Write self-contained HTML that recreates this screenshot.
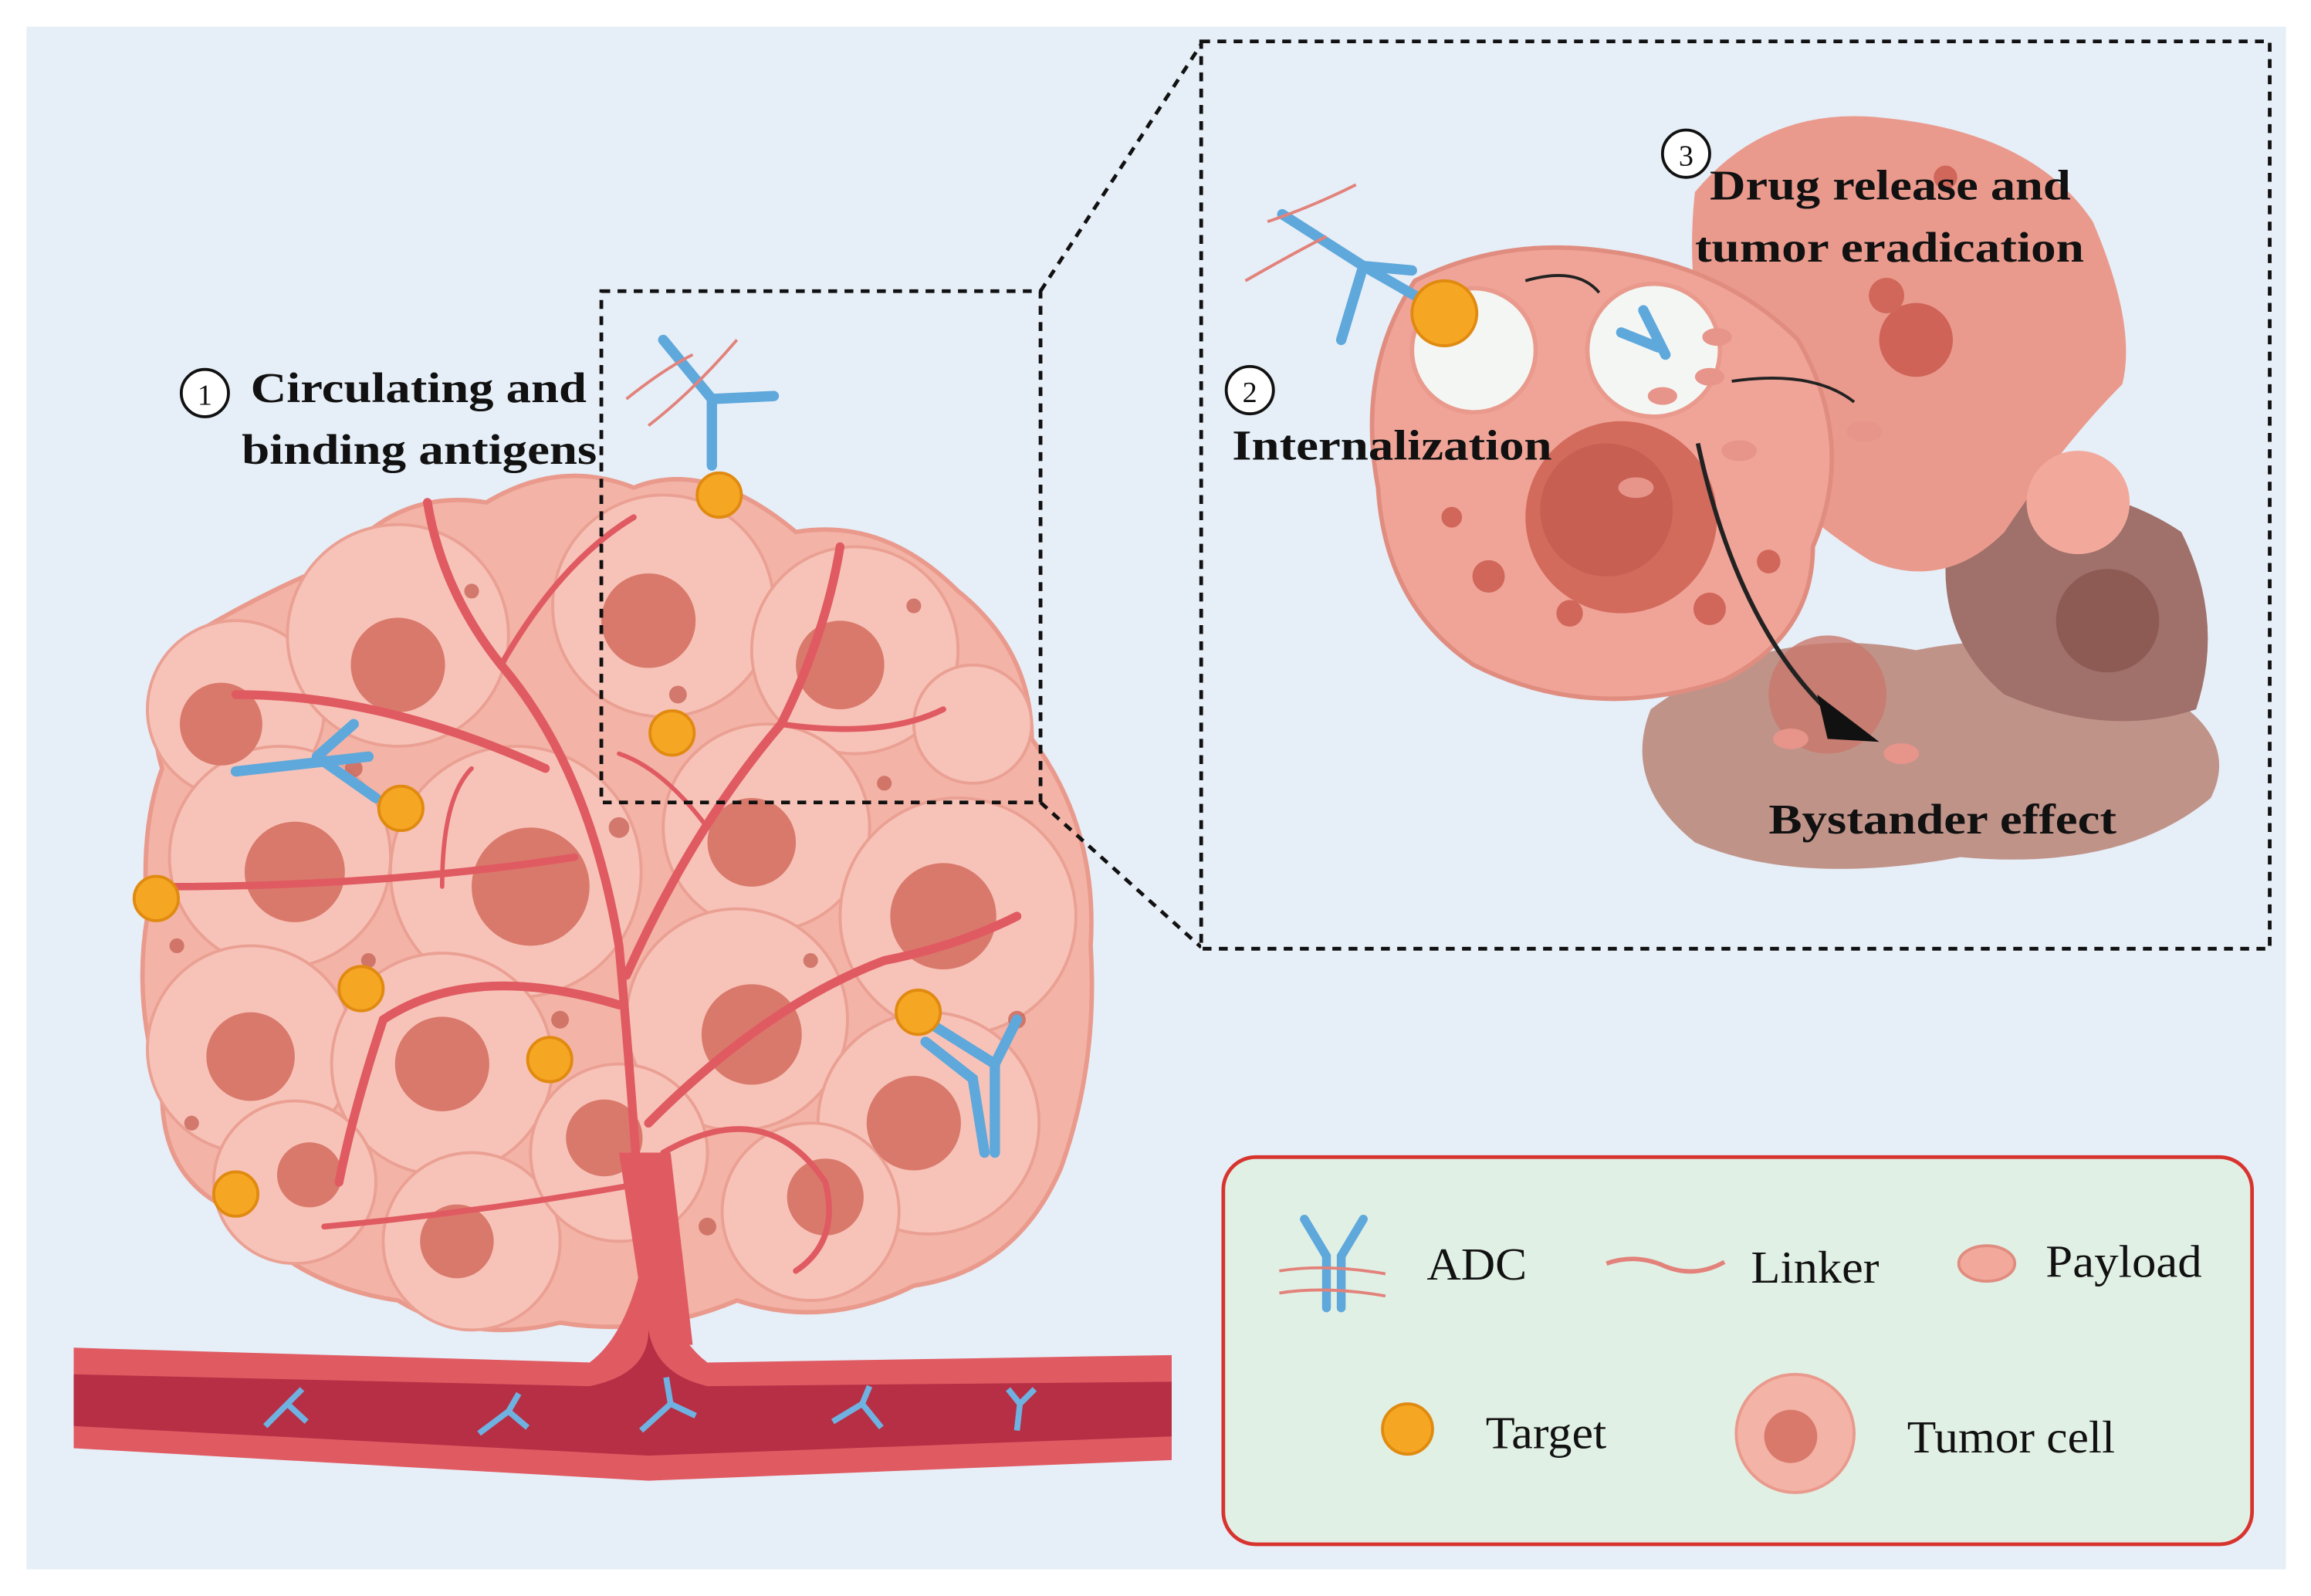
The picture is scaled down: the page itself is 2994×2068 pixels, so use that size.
<!DOCTYPE html>
<html><head><meta charset="utf-8"><style>
html,body{margin:0;padding:0;background:#fff;}
svg{display:block;}
text{font-family:"Liberation Serif",serif;}
</style></head><body>
<svg width="2994" height="2068" viewBox="0 0 1568 1080" preserveAspectRatio="none" xmlns="http://www.w3.org/2000/svg">
<rect x="0" y="0" width="1568" height="1080" fill="#fff"/>
<rect x="18" y="18" width="1533" height="1044" fill="#e6eef7"/>

<g>
<path d="M130 430 Q180 400 230 380 Q270 330 330 340 Q380 310 430 330 Q480 310 540 360 Q600 350 650 400 Q700 440 700 500 Q745 560 740 640 Q745 720 720 790 Q690 860 620 870 Q560 900 500 880 Q440 905 380 895 Q320 910 270 880 Q200 870 160 820 Q110 800 110 740 Q90 680 100 620 Q95 560 110 520 Q95 470 130 430Z" fill="#f3b3a6" stroke="#e99a8c" stroke-width="3"/>
<g fill="#f7c3b8" stroke="#eaa093" stroke-width="2">
<circle cx="160" cy="480" r="60"/><circle cx="270" cy="430" r="75"/><circle cx="450" cy="410" r="75"/><circle cx="580" cy="440" r="70"/><circle cx="190" cy="580" r="75"/><circle cx="350" cy="590" r="85"/><circle cx="520" cy="560" r="70"/><circle cx="650" cy="620" r="80"/><circle cx="170" cy="710" r="70"/><circle cx="300" cy="720" r="75"/><circle cx="500" cy="690" r="75"/><circle cx="630" cy="760" r="75"/><circle cx="200" cy="800" r="55"/><circle cx="320" cy="840" r="60"/><circle cx="420" cy="780" r="60"/><circle cx="550" cy="820" r="60"/><circle cx="660" cy="490" r="40"/>
</g>
<g fill="#d9796b">
<circle cx="150" cy="490" r="28"/><circle cx="270" cy="450" r="32"/><circle cx="440" cy="420" r="32"/><circle cx="570" cy="450" r="30"/><circle cx="200" cy="590" r="34"/><circle cx="360" cy="600" r="40"/><circle cx="510" cy="570" r="30"/><circle cx="640" cy="620" r="36"/><circle cx="170" cy="715" r="30"/><circle cx="300" cy="720" r="32"/><circle cx="510" cy="700" r="34"/><circle cx="620" cy="760" r="32"/><circle cx="210" cy="795" r="22"/><circle cx="310" cy="840" r="25"/><circle cx="410" cy="770" r="26"/><circle cx="560" cy="810" r="26"/>
</g>
<g fill="#c9655a" opacity="0.8">
<circle cx="240" cy="520" r="6"/><circle cx="120" cy="640" r="5"/><circle cx="420" cy="560" r="7"/><circle cx="600" cy="530" r="5"/><circle cx="460" cy="470" r="6"/><circle cx="380" cy="690" r="6"/><circle cx="690" cy="690" r="6"/><circle cx="250" cy="650" r="5"/><circle cx="480" cy="830" r="6"/><circle cx="130" cy="760" r="5"/><circle cx="550" cy="650" r="5"/><circle cx="320" cy="400" r="5"/><circle cx="620" cy="410" r="5"/>
</g>
<g fill="none" stroke="#e05a62" stroke-width="6" stroke-linecap="round">
<path d="M440 910 Q430 750 420 640 Q400 520 340 450 Q300 400 290 340"/>
<path d="M425 660 Q470 560 530 490 Q560 430 570 370"/>
<path d="M370 520 Q260 470 160 470"/>
<path d="M390 580 Q260 600 110 600" stroke-width="5"/>
<path d="M420 680 Q320 650 260 690 Q240 750 230 800"/>
<path d="M440 760 Q520 680 600 650 Q650 640 690 620"/>
<path d="M440 800 Q330 820 220 830" stroke-width="4"/>
<path d="M450 780 Q520 740 560 800 Q570 840 540 860" stroke-width="4"/>
<path d="M340 450 Q380 380 430 350" stroke-width="4"/>
<path d="M530 490 Q600 500 640 480" stroke-width="4"/>
<path d="M300 600 Q300 540 320 520" stroke-width="3"/>
<path d="M480 560 Q450 520 420 510" stroke-width="3"/>
</g>
<path d="M420 780 L440 910 L470 910 L455 780Z" fill="#e05a62"/>
</g>

<path d="M50 912 L400 922 Q430 900 440 830 Q450 900 480 922 L795 917 L795 988 L440 1002 L50 980Z" fill="#e05a62"/>
<path d="M50 930 L400 938 Q440 930 440 900 Q445 930 480 938 L795 935 L795 972 L440 985 L50 965Z" fill="#b62f45"/>
<g stroke="#6fb1e0" stroke-width="4" fill="none">
<path d="M180 965 L195 950 M195 950 L205 940 M195 950 L208 962"/>
<path d="M325 970 L345 955 M345 955 L352 943 M345 955 L358 966"/>
<path d="M435 968 L455 950 M455 950 L452 932 M455 950 L472 958"/>
<path d="M565 962 L585 950 M585 950 L590 938 M585 950 L598 966"/>
<path d="M690 968 L692 950 M692 950 L684 940 M692 950 L702 940"/>
</g>

<rect x="408" y="197" width="298" height="346" fill="none" stroke="#111" stroke-width="2.5" stroke-dasharray="6,5"/>
<line x1="706" y1="197" x2="815" y2="30" stroke="#111" stroke-width="2.5" stroke-dasharray="6,5"/>
<line x1="706" y1="543" x2="815" y2="641" stroke="#111" stroke-width="2.5" stroke-dasharray="6,5"/>
<rect x="815" y="28" width="725" height="614" fill="#e6eef7" stroke="#111" stroke-width="2.5" stroke-dasharray="6,5"/>

<g stroke="#5ea8dc" stroke-width="7" stroke-linecap="round" fill="none">
<path d="M483 315 L483 270 L450 230 M483 270 L525 268"/>
<path d="M160 522 L250 512 M215 512 L240 490 M215 512 L255 540"/>
<path d="M675 780 L675 720 L690 690 M675 720 L635 695"/>
<path d="M668 780 L660 730 L628 705"/>
</g>
<g fill="#f5a623" stroke="#e08a10" stroke-width="2">
<circle cx="488" cy="335" r="15"/><circle cx="456" cy="496" r="15"/><circle cx="272" cy="547" r="15"/><circle cx="106" cy="608" r="15"/><circle cx="245" cy="669" r="15"/><circle cx="373" cy="717" r="15"/><circle cx="160" cy="808" r="15"/><circle cx="623" cy="685" r="15"/>
</g>
<path d="M425 270 Q450 250 470 240 M440 288 Q470 265 500 230" stroke="#e2827a" stroke-width="2" fill="none"/>

<g>
<path d="M1120 480 Q1200 420 1300 440 Q1400 420 1470 470 Q1520 500 1500 540 Q1440 590 1330 580 Q1220 600 1150 570 Q1100 530 1120 480Z" fill="#b88276" opacity="0.85"/>
<path d="M1330 330 Q1420 320 1480 360 Q1510 420 1490 480 Q1430 500 1360 470 Q1300 420 1330 330Z" fill="#a0706a"/>
<path d="M1150 130 Q1200 70 1280 80 Q1380 90 1420 150 Q1450 220 1440 260 Q1400 300 1360 360 Q1320 400 1270 380 Q1220 350 1180 300 Q1140 220 1150 130Z" fill="#ea9a8d"/>
<path d="M960 190 Q1020 160 1090 170 Q1170 180 1220 230 Q1260 300 1230 370 Q1230 430 1170 460 Q1080 490 1000 450 Q940 410 935 330 Q920 250 960 190Z" fill="#f0a497" stroke="#e08d80" stroke-width="3"/>
<circle cx="1100" cy="350" r="65" fill="#d36b5d"/>
<circle cx="1090" cy="345" r="45" fill="#c75f52"/>
<circle cx="1430" cy="420" r="35" fill="#8d5a54"/>
<circle cx="1240" cy="470" r="40" fill="#c8786c" opacity="0.8"/>
<circle cx="1300" cy="230" r="25" fill="#cf6357"/>
<circle cx="1410" cy="340" r="35" fill="#f2a99c"/>
<circle cx="1000" cy="237" r="42" fill="#f4f6f4" stroke="#e99a8c" stroke-width="3"/>
<circle cx="1122" cy="237" r="45" fill="#f4f6f4" stroke="#e99a8c" stroke-width="3"/>
<g fill="#e7948a"><ellipse cx="1165" cy="228" rx="10" ry="6"/><ellipse cx="1128" cy="268" rx="10" ry="6"/><ellipse cx="1160" cy="255" rx="10" ry="6"/><ellipse cx="1110" cy="330" rx="12" ry="7"/><ellipse cx="1180" cy="305" rx="12" ry="7"/><ellipse cx="1265" cy="292" rx="12" ry="7"/><ellipse cx="1215" cy="500" rx="12" ry="7"/><ellipse cx="1290" cy="510" rx="12" ry="7"/></g>
<g fill="#d0675a"><circle cx="1010" cy="390" r="11"/><circle cx="1065" cy="415" r="9"/><circle cx="1160" cy="412" r="11"/><circle cx="1200" cy="380" r="8"/><circle cx="985" cy="350" r="7"/><circle cx="1280" cy="200" r="12"/><circle cx="1320" cy="120" r="8"/></g>
<path d="M1035 190 Q1070 180 1085 198" stroke="#222" stroke-width="2" fill="none"/>
<path d="M1175 258 Q1230 250 1258 272" stroke="#222" stroke-width="2" fill="none"/>
<path d="M1152 300 Q1180 430 1250 490" stroke="#222" stroke-width="3" fill="none"/>
<path d="M1233 470 L1275 502 L1240 500Z" fill="#111"/>
<g stroke="#5ea8dc" stroke-width="7" stroke-linecap="round" fill="none">
<path d="M960 200 L925 180 L870 145 M925 180 L910 230"/>
<path d="M925 180 L958 183"/>
<path d="M1100 225 L1125 235 M1115 210 L1130 240"/>
</g>
<path d="M845 190 Q880 170 900 160 M860 150 Q890 140 920 125" stroke="#e2827a" stroke-width="2" fill="none"/>
<circle cx="980" cy="212" r="22" fill="#f5a623" stroke="#e08a10" stroke-width="2"/>
</g>

<g font-weight="bold" font-size="29" fill="#111">
<circle cx="139" cy="266" r="16" fill="#fff" stroke="#111" stroke-width="2"/>
<text x="139" y="274" font-size="20" text-anchor="middle" font-weight="normal">1</text>
<text x="170" y="272" textLength="228" lengthAdjust="spacingAndGlyphs">Circulating and</text>
<text x="164" y="314" textLength="241" lengthAdjust="spacingAndGlyphs">binding antigens</text>
<circle cx="848" cy="264" r="16" fill="#fff" stroke="#111" stroke-width="2"/>
<text x="848" y="272" font-size="20" text-anchor="middle" font-weight="normal">2</text>
<text x="836" y="311" textLength="217" lengthAdjust="spacingAndGlyphs">Internalization</text>
<circle cx="1144" cy="104" r="16" fill="#fff" stroke="#111" stroke-width="2"/>
<text x="1144" y="112" font-size="20" text-anchor="middle" font-weight="normal">3</text>
<text x="1160" y="135" textLength="245" lengthAdjust="spacingAndGlyphs">Drug release and</text>
<text x="1150" y="177" textLength="264" lengthAdjust="spacingAndGlyphs">tumor eradication</text>
<text x="1200" y="564" textLength="236" lengthAdjust="spacingAndGlyphs">Bystander effect</text>
</g>

<rect x="830" y="783" width="698" height="262" rx="22" fill="#e1f0e5" stroke="#d8342f" stroke-width="2.5"/>
<g font-size="31" fill="#111">
<text x="968" y="866" textLength="68" lengthAdjust="spacingAndGlyphs">ADC</text>
<text x="1188" y="868" textLength="87" lengthAdjust="spacingAndGlyphs">Linker</text>
<text x="1388" y="864" textLength="106" lengthAdjust="spacingAndGlyphs">Payload</text>
<text x="1008" y="980" textLength="82" lengthAdjust="spacingAndGlyphs">Target</text>
<text x="1294" y="983" textLength="141" lengthAdjust="spacingAndGlyphs">Tumor cell</text>
</g>
<g stroke="#5ea8dc" stroke-width="6" stroke-linecap="round" fill="none">
<path d="M900 885 L900 850 L885 825 M910 885 L910 850 L925 825"/>
</g>
<path d="M868 860 Q900 855 940 862 M868 875 Q900 870 940 877" stroke="#e2827a" stroke-width="2" fill="none"/>
<path d="M1090 855 Q1110 848 1130 857 Q1150 865 1170 854" stroke="#e2827a" stroke-width="3" fill="none"/>
<ellipse cx="1348" cy="855" rx="19" ry="12" fill="#f2a99c" stroke="#e08d80" stroke-width="2"/>
<circle cx="955" cy="967" r="17" fill="#f5a623" stroke="#e08a10" stroke-width="2"/>
<circle cx="1218" cy="970" r="40" fill="#f3b3a6" stroke="#e99a8c" stroke-width="2"/>
<circle cx="1215" cy="972" r="18" fill="#d9796b"/>
</svg>
</body></html>
